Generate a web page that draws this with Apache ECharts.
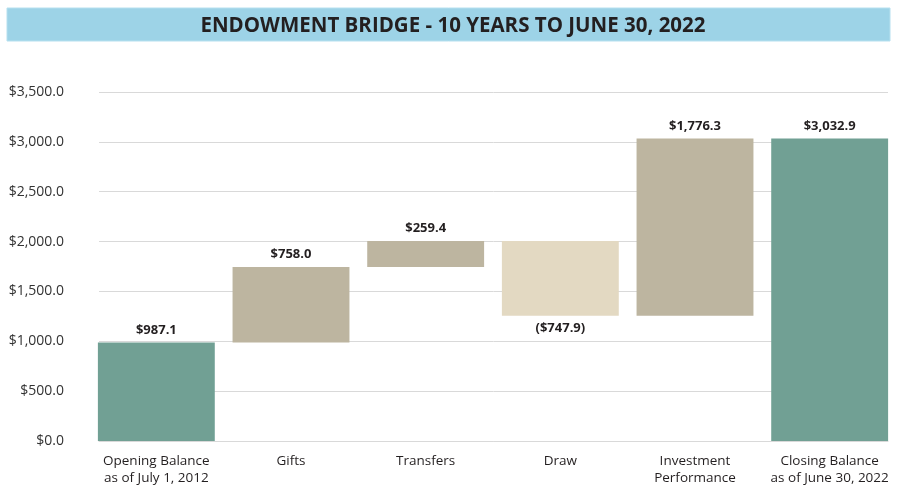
<!DOCTYPE html>
<html>
<head>
<meta charset="utf-8">
<script src="https://cdn.jsdelivr.net/npm/echarts@6/dist/echarts.min.js"></script>
<style>html,body{margin:0;padding:0;background:#fff}#c{width:900px;height:490px}</style>
</head>
<body>
<div id="c"></div>
<script>
var categories = ['Opening Balance\nas of July 1, 2012', 'Gifts', 'Transfers', 'Draw', 'Investment\nPerformance', 'Closing Balance\nas of June 30, 2022'];
var values = [987.1, 758.0, 259.4, -747.9, 1776.3, 3032.9];
var isTotal = [true, false, false, false, false, true];
var yTicks = [0, 500, 1000, 1500, 2000, 2500, 3000, 3500];

var colTotal = '#71a094', colUp = '#bdb5a0', colDown = '#e3d9c2';
var base = [], height = [], running = 0;
for (var i = 0; i < values.length; i++) {
  var v = values[i];
  if (isTotal[i]) { base.push(0); height.push(v); running = v; }
  else if (v >= 0) { base.push(running); height.push(v); running += v; }
  else { running += v; base.push(running); height.push(-v); }
}
function fmt(v) {
  var s = '$' + Math.abs(v).toLocaleString('en-US', {minimumFractionDigits: 1, maximumFractionDigits: 1});
  return v < 0 ? '(' + s + ')' : s;
}
var yMin = yTicks[0], yMax = yTicks[yTicks.length - 1], yStep = yTicks[1] - yTicks[0];
var chart = echarts.init(document.getElementById('c'));
chart.setOption({
  animation: false,
  grid: [
    {left: 99, right: 12, top: 92, bottom: 49},
    {left: 89, right: 3, top: 92, bottom: 49}
  ],
  graphic: [
    {type: 'rect', shape: {x: 7, y: 8, width: 883, height: 33}, style: {fill: '#9dd3e7', stroke: '#b6e0ef', lineWidth: 1}},
    {type: 'text', x: 453, y: 26, scaleX: 1.0, style: {x: 0, y: 0, text: 'ENDOWMENT BRIDGE - 10 YEARS TO JUNE 30, 2022', textAlign: 'center', textVerticalAlign: 'middle', font: 'bold 20.5px "Open Sans"', fill: '#231f20'}}
  ],
  xAxis: [
    {type: 'category', gridIndex: 0, data: categories,
      axisLine: {lineStyle: {color: '#d9d9d9'}}, axisTick: {show: false}, axisLabel: {show: false}},
    {type: 'category', gridIndex: 1, data: categories,
      axisLine: {show: false}, axisTick: {show: false},
      axisLabel: {interval: 0, fontFamily: 'Open Sans', fontSize: 13.5, color: '#231f20', lineHeight: 17, margin: 12}}
  ],
  yAxis: [
    {type: 'value', gridIndex: 0, min: yMin, max: yMax, interval: yStep,
      axisLine: {show: false}, axisTick: {show: false},
      splitLine: {lineStyle: {color: '#d9d9d9', width: 1}},
      axisLabel: {margin: 35, fontFamily: 'Open Sans', fontSize: 14, color: '#333',
        formatter: function (v) { return fmt(v); }}},
    {type: 'value', gridIndex: 1, min: yMin, max: yMax, interval: yStep, show: false}
  ],
  series: [
    {type: 'bar', xAxisIndex: 1, yAxisIndex: 1, stack: 'w', data: base, itemStyle: {color: 'transparent'}, barCategoryGap: '13.2%', silent: true},
    {type: 'bar', xAxisIndex: 1, yAxisIndex: 1, stack: 'w', barCategoryGap: '13.2%',
      data: height.map(function (h, i) {
        var v = values[i];
        return {
          value: h,
          itemStyle: {color: isTotal[i] ? colTotal : (v >= 0 ? colUp : colDown)},
          label: {show: true, position: v < 0 ? 'bottom' : 'top', distance: 6,
            formatter: fmt(v), fontFamily: 'Open Sans', fontWeight: 'bold', fontSize: 13, color: '#231f20'}
        };
      })
    }
  ]
});
</script>
</body>
</html>
